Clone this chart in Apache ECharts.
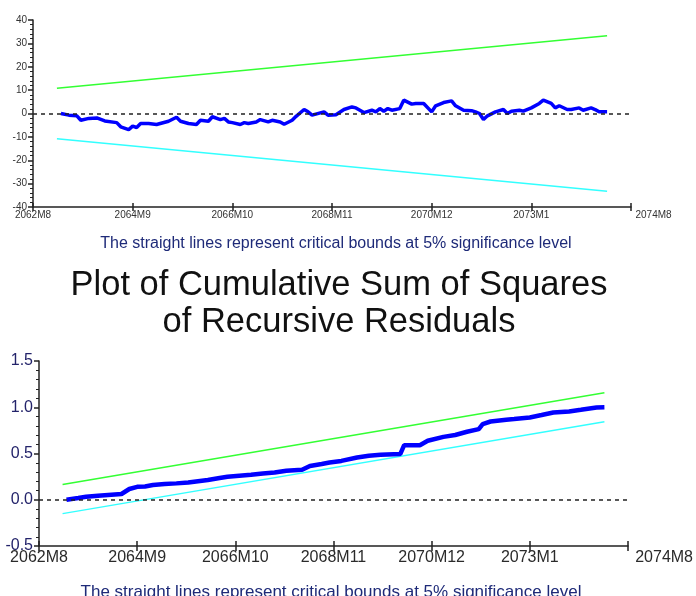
<!DOCTYPE html>
<html>
<head>
<meta charset="utf-8">
<script src="https://cdn.jsdelivr.net/npm/echarts@6/dist/echarts.min.js"></script>
<style>
html,body{margin:0;padding:0;background:#fff;}
#chart{width:696px;height:596px;}
</style>
</head>
<body>
<div id="chart"></div>
<script>
// ---- data ----
const tickLabels = ['2062M8','2064M9','2066M10','2068M11','2070M12','2073M1','2074M8'];

// CUSUM (top panel): months since 2062M8 and values
const cusumMonths = [7,9,11,12,14,16,18,21,22,24,25,26,27,29,31,34,36,37,39,41,42,44,45,47,48,49,50,52,53,54,56,57,59,60,62,63,65,66,68,69,70,73,74,76,78,80,81,83,85,86,87,88,89,90,92,93,95,96,98,100,101,103,105,106,108,110,111,112,113,114,116,118,119,120,122,123,125,127,128,130,131,132,134,135,137,138,140,141,142,144];
const cusumValues = [0,-0.7,-1.0,-2.9,-2.1,-1.9,-3.2,-3.9,-5.7,-6.9,-5.4,-6.0,-4.3,-4.3,-4.7,-3.3,-1.6,-3.3,-4.3,-4.7,-2.9,-3.3,-1.4,-2.6,-2.1,-3.6,-3.9,-4.7,-3.9,-4.3,-3.6,-2.6,-3.6,-2.9,-3.6,-4.6,-2.9,-1.2,1.7,0.7,-0.7,0.7,-0.7,-0.5,1.7,2.8,2.4,0.4,1.4,0.7,2.1,1.0,2.1,1.4,2.1,5.7,4.0,4.3,4.3,0.7,3.3,4.7,5.4,3.3,1.4,1.2,0.7,0,-2.6,-1.0,0.7,1.7,0,1.0,1.4,1.0,2.4,4.3,5.7,4.3,2.4,3.3,1.7,1.7,2.4,1.4,2.4,1.7,0.7,0.7];
const cusumBoundMonths = [6,144];
const cusumUpper = [10.8,33.3];
const cusumLower = [-10.8,-33.3];

// CUSUM of squares (bottom panel)
const cusumsqMonths = [7,10,12,15,21,23,25,27,29,32,35,38,40,43,46,48,51,54,57,60,63,67,69,72,74,77,81,84,87,92,93,97,99,103,106,109,112,113,115,119,121,125,128,131,135,138,142,144];
const cusumsqValues = [0.0,0.018,0.032,0.043,0.062,0.116,0.14,0.144,0.159,0.17,0.177,0.187,0.198,0.213,0.235,0.249,0.26,0.27,0.284,0.295,0.314,0.324,0.365,0.386,0.403,0.42,0.457,0.476,0.486,0.494,0.59,0.59,0.638,0.68,0.70,0.735,0.764,0.818,0.846,0.865,0.872,0.89,0.916,0.944,0.955,0.973,0.998,1.0];
const cusumsqBoundMonths = [6,144];
const cusumsqUpper = [0.165,1.157];
const cusumsqLower = [-0.15,0.843];

const zip = (xs, ys) => xs.map((x, i) => [x, ys[i]]);

const FONT = 'Liberation Sans, Arial, sans-serif';
const AX = '#222';

function xAxes(grid, fs, color, mainLen, margin) {
  return [
    { type:'value', gridIndex:grid, min:0, max:150, interval:25,
      axisLine:{show:true, onZero:false, lineStyle:{color:AX, width:1.5}},
      axisTick:{show:true, inside:false, length:mainLen, lineStyle:{color:AX, width:1.5}},
      splitLine:{show:false},
      axisLabel:{show:true, color:color, fontSize:fs, fontFamily:FONT, margin:margin,
        formatter:(v)=>{ const i=Math.round(v/25); return i===6 ? '{e|'+tickLabels[i]+'}' : tickLabels[i]; },
        alignMaxLabel:'left',
        rich:{e:{fontSize:fs, color:color, fontFamily:FONT, padding:[0,0,0,fs*0.45]}} } },
    { type:'value', gridIndex:grid, min:0, max:150, interval:25, position:'bottom',
      axisLine:{show:false, onZero:false},
      axisTick:{show:true, inside:true, length:mainLen, lineStyle:{color:AX, width:1.5}},
      splitLine:{show:false}, axisLabel:{show:false} }
  ];
}
function yAxes(grid, min, max, interval, fs, color, fmt) {
  return [
    { type:'value', gridIndex:grid, min:min, max:max, interval:interval,
      axisLine:{show:true, onZero:false, lineStyle:{color:AX, width:1.5}},
      axisTick:{show:true, inside:false, length:5, lineStyle:{color:AX, width:1.5}},
      minorTick:{show:true, splitNumber:5, length:3, lineStyle:{color:AX, width:1}},
      splitLine:{show:false},
      axisLabel:{color:color, fontSize:fs, fontFamily:FONT, margin:6, formatter:fmt} },
    { type:'value', gridIndex:grid, min:min, max:max, interval:interval, position:'left',
      axisLine:{show:false, onZero:false},
      axisTick:{show:false},
      minorTick:{show:true, splitNumber:5, length:3, lineStyle:{color:AX, width:1}},
      splitLine:{show:false}, axisLabel:{show:false} }
  ];
}

const chart = echarts.init(document.getElementById('chart'), null, {renderer:'canvas'});
const capText = 'The straight lines represent critical bounds at 5% significance level';
const option = {
  animation:false,
  backgroundColor:'#ffffff',
  title:[
    { text:'Plot of Cumulative Sum of Squares\nof Recursive Residuals', left:334, top:262, textAlign:'center',
      textStyle:{fontFamily:FONT, fontSize:34.5, fontWeight:'normal', color:'#111', lineHeight:37} },
    { text:capText, left:331, top:229, textAlign:'center',
      textStyle:{fontFamily:FONT, fontSize:16, fontWeight:'normal', color:'#1e2a78', lineHeight:19} },
    { text:capText, left:326, top:577, textAlign:'center',
      textStyle:{fontFamily:FONT, fontSize:17, fontWeight:'normal', color:'#1e2a78', lineHeight:20} }
  ],
  grid:[
    {left:33, top:20, width:598, height:187},
    {left:39, top:361, width:591, height:185}
  ],
  xAxis:[].concat(xAxes(0, 10, '#333', 4, 3), xAxes(1, 16, '#2a2a2a', 5, 4)),
  yAxis:[].concat(
    yAxes(0, -40, 40, 10, 10, '#333', (v)=>String(v)),
    yAxes(1, -0.5, 1.5, 0.5, 16, '#23236a', (v)=>v.toFixed(1))
  ),
  series:[
    { type:'line', xAxisIndex:0, yAxisIndex:0, data:zip(cusumBoundMonths, cusumUpper), symbol:'none',
      lineStyle:{color:'#33ff33', width:1.5}, z:2 },
    { type:'line', xAxisIndex:0, yAxisIndex:0, data:zip(cusumBoundMonths, cusumLower), symbol:'none',
      lineStyle:{color:'#33ffff', width:1.5}, z:2 },
    { type:'line', xAxisIndex:0, yAxisIndex:0, data:zip(cusumMonths, cusumValues), symbol:'none',
      lineStyle:{color:'#0000ff', width:3.5}, z:3,
      markLine:{silent:true, symbol:'none', label:{show:false},
        lineStyle:{color:'#222', type:[4,4], width:1.5}, data:[{yAxis:0}]} },
    { type:'line', xAxisIndex:2, yAxisIndex:2, data:zip(cusumsqBoundMonths, cusumsqUpper), symbol:'none',
      lineStyle:{color:'#33ff33', width:1.5}, z:2 },
    { type:'line', xAxisIndex:2, yAxisIndex:2, data:zip(cusumsqBoundMonths, cusumsqLower), symbol:'none',
      lineStyle:{color:'#33ffff', width:1.5}, z:2 },
    { type:'line', xAxisIndex:2, yAxisIndex:2, data:zip(cusumsqMonths, cusumsqValues), symbol:'none',
      lineStyle:{color:'#0000ff', width:4.5}, z:3,
      markLine:{silent:true, symbol:'none', label:{show:false},
        lineStyle:{color:'#222', type:[4,4], width:1.5}, data:[{yAxis:0}]} }
  ]
};
chart.setOption(option);
</script>
</body>
</html>
